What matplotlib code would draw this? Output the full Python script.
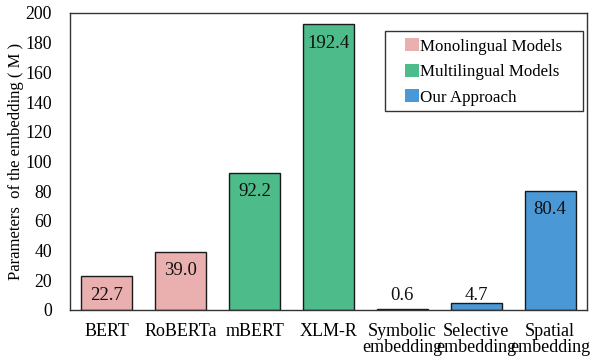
import matplotlib
matplotlib.use("Agg")
import matplotlib.pyplot as plt
from matplotlib.patches import Patch, Rectangle

plt.rcParams['font.family'] = ['Liberation Serif', 'DejaVu Serif']

categories = ["BERT", "RoBERTa", "mBERT", "XLM-R", "Symbolic\nembedding", "Selective\nembedding", "Spatial\nembedding"]
values = [22.7, 39.0, 92.2, 192.4, 0.6, 4.7, 80.4]
groups = ["Monolingual Models", "Monolingual Models", "Multilingual Models", "Multilingual Models",
          "Our Approach", "Our Approach", "Our Approach"]
group_names = ["Monolingual Models", "Multilingual Models", "Our Approach"]
group_colors = {"Monolingual Models": "#EAB0B0", "Multilingual Models": "#4DBB8A", "Our Approach": "#4A98D6"}
yticks = [0, 20, 40, 60, 80, 100, 120, 140, 160, 180, 200]

W, H = 597, 359
fig = plt.figure(figsize=(W/100, H/100), dpi=100)
ax = fig.add_axes([70/W, 1-310/H, 517/W, 297/H])

x = list(range(len(categories)))
colors = [group_colors[g] for g in groups]
ax.bar(x, values, width=0.69, color=colors, edgecolor="#1a1a1a", linewidth=1.0, zorder=2)

for xi, v in zip(x, values):
    if v > 15:
        ax.annotate(f"{v:.1f}", (xi, v), xytext=(0, -13.5), textcoords="offset points",
                    ha="center", va="center", fontsize=13.5, color="#111111")
    else:
        ax.annotate(f"{v:.1f}", (xi, 0), xytext=(0, 10.5), textcoords="offset points",
                    ha="center", va="center", fontsize=13.5, color="#111111")

ax.set_xlim(-0.5, len(categories) - 0.5)
ax.set_ylim(0, 200)
ax.set_yticks(yticks)
ax.set_yticks([0, 200], minor=True)
ax.set_xticks(x)
ax.set_xticklabels(categories, fontsize=13, linespacing=0.95)
ax.tick_params(axis='y', which='major', labelsize=12.8, length=0, pad=13)
ax.tick_params(axis='y', which='minor', length=6, width=1.0, color="#333333", direction='out')
ax.tick_params(axis='x', length=0, pad=9)
for s in ax.spines.values():
    s.set_color("#333333")
    s.set_linewidth(1.0)
ax.set_ylabel("Parameters  of the embedding ( M )", fontsize=12, labelpad=1)

# legend frame
fig.add_artist(Rectangle((385/W, 1-111/H), 198/W, 80/H, transform=fig.transFigure,
                         facecolor="white", edgecolor="#333333", linewidth=1.0, zorder=3))
handles = [Patch(facecolor=group_colors[g], edgecolor='none', label=g) for g in group_names]
leg = fig.legend(handles=handles, loc='center', bbox_to_anchor=(484/W, 1-72/H),
                 fontsize=12.2, frameon=False,
                 handlelength=0.78, handleheight=0.78, handletextpad=0.1, borderpad=0,
                 labelspacing=0.55, borderaxespad=0)
leg.set_zorder(4)

fig.savefig("out.png", dpi=100)
